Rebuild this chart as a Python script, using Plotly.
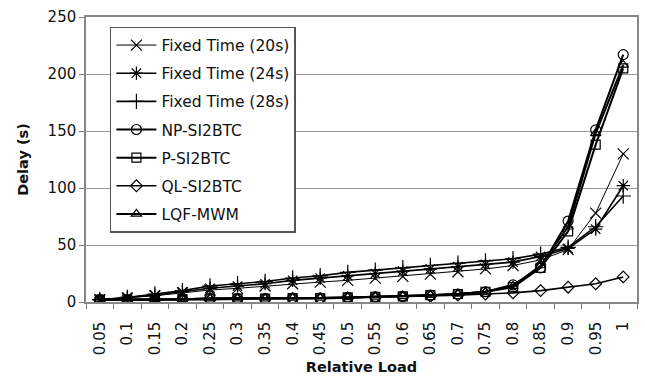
import plotly.graph_objects as go

loads = ["0.05", "0.1", "0.15", "0.2", "0.25", "0.3", "0.35", "0.4", "0.45", "0.5",
         "0.55", "0.6", "0.65", "0.7", "0.75", "0.8", "0.85", "0.9", "0.95", "1"]

fixed20 = [2, 3.5, 5.5, 8, 10.5, 12, 14, 16, 17.5, 19, 21, 22.5, 24.5, 26.5, 29, 32, 37, 46, 78, 130]
fixed24 = [2, 4, 6, 9, 12, 14, 16, 19, 21, 23, 25, 27, 29, 31, 33, 35, 40, 47, 64, 102]
fixed28 = [2, 4, 7, 10, 14, 16, 18, 21, 23, 26, 28, 30, 32, 34, 36, 38, 42, 48, 66, 93]
np_si2btc = [2, 2, 2.5, 2.5, 3, 3, 3, 3.5, 3.5, 4, 4.5, 5, 6, 7, 9, 15, 30, 71, 151, 217]
p_si2btc = [2, 2, 2.5, 2.5, 3, 3, 3, 3.5, 3.5, 4, 4.5, 5, 6, 7, 9, 13, 30, 62, 138, 205]
ql_si2btc = [1.5, 1.5, 2, 2, 2, 2.5, 2.5, 3, 3, 3.5, 4, 4.5, 5, 6, 7, 8, 10, 13, 16, 22]
lqf_mwm = [2, 2, 2.5, 2.5, 3, 3, 3, 3.5, 3.5, 4, 4.5, 5, 6, 7, 9, 14, 32, 66, 148, 208]

series = [
    ("Fixed Time (20s)", fixed20, "x-thin-open", 1.0, 11),
    ("Fixed Time (24s)", fixed24, "asterisk-open", 1.6, 11),
    ("Fixed Time (28s)", fixed28, "cross-thin-open", 1.6, 11),
    ("NP-SI2BTC", np_si2btc, "circle-open", 2.0, 10),
    ("P-SI2BTC", p_si2btc, "square-open", 2.0, 9),
    ("QL-SI2BTC", ql_si2btc, "diamond-open", 1.6, 9),
    ("LQF-MWM", lqf_mwm, "triangle-up-open", 2.0, 9),
]

FONT = "DejaVu Sans"
TXT = "#111"
fig = go.Figure()
for i, (name, vals, sym, lw, ms) in enumerate(series):
    fig.add_trace(go.Scatter(
        x=loads, y=vals, name=name, mode="lines+markers",
        line=dict(color="black", width=lw),
        marker=dict(symbol=sym, size=ms, color="black", line=dict(color="black", width=1.2)),
        legendgroup=f"g{i}",
    ))

fig.update_layout(
    width=645, height=380,
    margin=dict(l=86, r=6, t=17, b=78),
    paper_bgcolor="white", plot_bgcolor="white",
    font=dict(family=FONT, size=15, color=TXT),
    showlegend=True,
    legend=dict(
        x=0.0434, y=0.965, xanchor="left", yanchor="top",
        bgcolor="white", bordercolor="#555", borderwidth=1.5,
        font=dict(family=FONT, size=15.5, color=TXT),
        itemwidth=40, tracegroupgap=5, traceorder="grouped",
    ),
    xaxis=dict(
        type="category", range=[-0.5, 19.5], tickangle=-90, tickson="boundaries",
        ticks="outside", ticklen=5, tickcolor="#777", ticklabelstandoff=12,
        showline=True, linecolor="#888", linewidth=1.5, mirror=True,
        showgrid=False,
        tickfont=dict(family=FONT, size=15, color=TXT),
        title=dict(text="<b>Relative Load</b>", font=dict(family=FONT, size=14.5, color=TXT), standoff=8),
    ),
    yaxis=dict(
        range=[0, 250], dtick=50, ticks="outside", ticklen=5, tickcolor="#777",
        showline=True, linecolor="#888", linewidth=1.5, mirror=True,
        showgrid=True, gridcolor="#999", gridwidth=1.3, zeroline=False,
        tickfont=dict(family=FONT, size=15, color=TXT),
        title=dict(text="<b>Delay (s)</b>", font=dict(family=FONT, size=14.5, color=TXT), standoff=16),
    ),
)

fig.write_html("out.html")
